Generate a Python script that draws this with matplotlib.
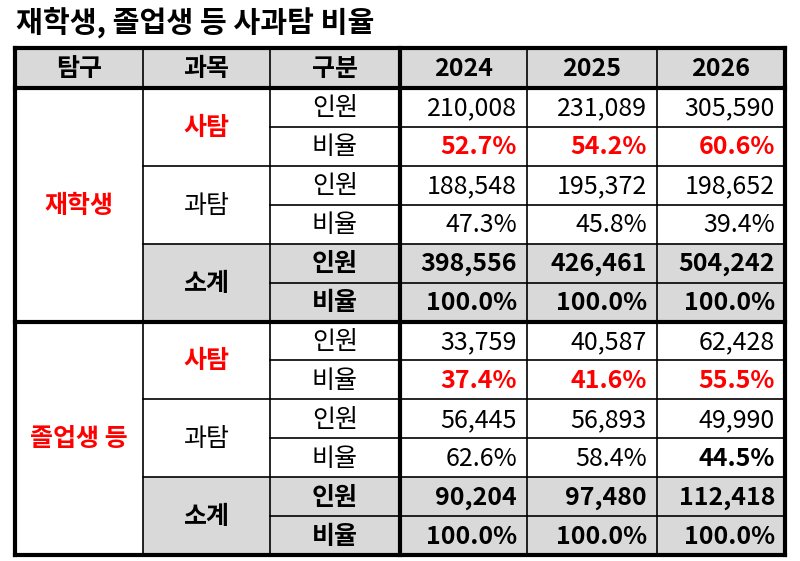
import matplotlib.pyplot as plt
from matplotlib.patches import Rectangle

plt.rcParams["font.family"] = "Noto Sans CJK KR"

title = "재학생, 졸업생 등 사과탐 비율"
headers = ["탐구", "과목", "구분", "2024", "2025", "2026"]
groups = ["재학생", "졸업생 등"]
subjects = ["사탐", "과탐", "소계"]
kinds = ["인원", "비율"]

# rows: group x subject x kind
values = [
    ["210,008", "231,089", "305,590"],
    ["52.7%", "54.2%", "60.6%"],
    ["188,548", "195,372", "198,652"],
    ["47.3%", "45.8%", "39.4%"],
    ["398,556", "426,461", "504,242"],
    ["100.0%", "100.0%", "100.0%"],
    ["33,759", "40,587", "62,428"],
    ["37.4%", "41.6%", "55.5%"],
    ["56,445", "56,893", "49,990"],
    ["62.6%", "58.4%", "44.5%"],
    ["90,204", "97,480", "112,418"],
    ["100.0%", "100.0%", "100.0%"],
]

RED = "#ff0000"
GRAY = "#d9d9d9"
fs = 18

fig = plt.figure(figsize=(8, 5.61), dpi=100)
ax = fig.add_axes([0, 0, 1, 1])
ax.set_xlim(0, 800)
ax.set_ylim(561, 0)
ax.axis("off")

xs = [15, 143, 270, 400, 527, 657, 785]
y0, hh = 48, 40
rh = (555 - 88) / 12
ys = [88 + i * rh for i in range(13)]


def cell(x1, x2, y1, y2, txt, color="black", bold=False, fill=None, ha="center"):
    if fill:
        ax.add_patch(Rectangle((x1, y1), x2 - x1, y2 - y1, facecolor=fill, edgecolor="none", zorder=0))
    if ha == "right":
        tx = x2 - 10
    else:
        tx = (x1 + x2) / 2
    ax.text(tx, (y1 + y2) / 2 + 1, txt, ha=ha, va="center", fontsize=fs, color=color,
            fontweight="bold" if bold else "normal")


ax.text(16, 22, title, fontsize=21, fontweight="bold", va="center", ha="left")

for i, h in enumerate(headers):
    cell(xs[i], xs[i + 1], y0, y0 + hh, h, bold=True, fill=GRAY)

for g, gname in enumerate(groups):
    base = g * 6
    cell(xs[0], xs[1], ys[base], ys[base + 6], gname, color=RED, bold=True)
    for s, sname in enumerate(subjects):
        r = base + s * 2
        total = s == 2
        fill = GRAY if total else None
        cell(xs[1], xs[2], ys[r], ys[r + 2], sname,
             color=RED if s == 0 else "black", bold=(s != 1), fill=fill)
        for k, kname in enumerate(kinds):
            rr = r + k
            cell(xs[2], xs[3], ys[rr], ys[rr + 1], kname, bold=total, fill=fill)
            for c in range(3):
                v = values[rr][c]
                red = s == 0 and k == 1
                bold = total or red or v == "44.5%"
                cell(xs[3 + c], xs[4 + c], ys[rr], ys[rr + 1], v,
                     color=RED if red else "black", bold=bold, fill=fill, ha="right")

lw = 1.2
LW = 3
# horizontal lines
for y in (y0, ys[0], ys[6], ys[12]):
    ax.plot([xs[0], xs[-1]], [y, y], color="black", lw=LW)
for i in range(1, 12):
    if i == 6:
        continue
    x_start = xs[1] if i % 2 == 0 else xs[2]
    ax.plot([x_start, xs[-1]], [ys[i], ys[i]], color="black", lw=lw)
# vertical lines
for j, x in enumerate(xs):
    w = LW if j in (0, 3, 6) else lw
    ax.plot([x, x], [y0, ys[12]], color="black", lw=w)

fig.savefig("out.png", dpi=100)
